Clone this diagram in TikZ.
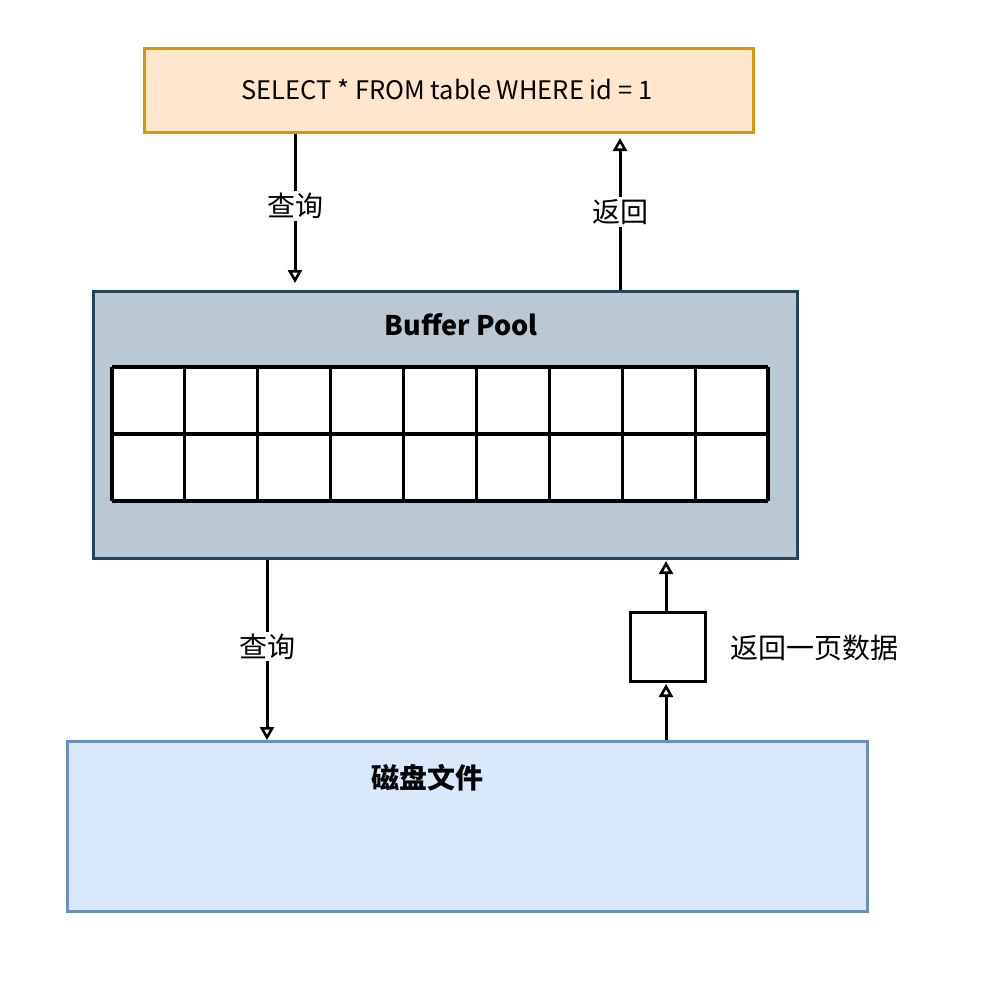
\documentclass[tikz,border=0pt]{standalone}
\usepackage{fontspec}
\setmainfont{Noto Sans CJK SC}
\usetikzlibrary{arrows.meta}
\definecolor{sqlfill}{HTML}{FFE6CC}
\definecolor{sqldraw}{HTML}{D79B00}
\definecolor{bpfill}{HTML}{BAC8D3}
\definecolor{bpdraw}{HTML}{23445D}
\definecolor{dkfill}{HTML}{DAE8FC}
\definecolor{dkdraw}{HTML}{6C8EBF}
\begin{document}
\begin{tikzpicture}[x=1pt,y=-1pt,
  box/.style={draw, line width=3pt, inner sep=0pt, anchor=north west},
  arr/.style={line width=3pt, -{Triangle[open,length=13pt,width=14pt,line width=2.6pt]}},
  lbl/.style={fill=white, font=\fontsize{28}{32}\selectfont, inner sep=2pt},
  cell/.style={line width=3.2pt, draw=black}]
\useasboundingbox (0,0) rectangle (992,980);
% boxes
\node[box, fill=sqlfill, draw=sqldraw, minimum width=609pt, minimum height=84pt] (sql) at (143,47) {};
\node[font=\fontsize{25.5}{30}\selectfont] (sqltext) at (447,90) {SELECT * FROM table WHERE id = 1};
\node[box, fill=bpfill, draw=bpdraw, minimum width=704pt, minimum height=267pt] (bp) at (92,290) {};
\node[font=\fontsize{27}{32}\selectfont\bfseries] (bptext) at (461,325) {Buffer Pool};
\node[box, fill=dkfill, draw=dkdraw, minimum width=800pt, minimum height=170pt] (dk) at (66,740) {};
\node[font=\fontsize{28}{32}\selectfont\bfseries] (dktext) at (427,778) {磁盘文件};
\node[box, fill=white, draw=black, minimum width=75pt, minimum height=69pt] (pg) at (629,611) {};
\node[lbl, anchor=west] (pgtext) at (728,648) {返回一页数据};
% grid
\fill[white] (112,367) rectangle (768,501);
\foreach \i in {0,...,9} {
  \draw[cell] ({112+\i*72.889},367) -- ({112+\i*72.889},501);
}
\draw[cell] (112,367) -- (768,367);
\draw[cell] (112,434) -- (768,434);
\draw[cell] (112,501) -- (768,501);
% connector x positions
\coordinate (c1) at (295,0);
\coordinate (c2) at (620,0);
\coordinate (c3) at (267,0);
\coordinate (c4) at (666,0);
% arrows
\draw[arr, shorten >=7pt] (sql.south -| c1) -- node[lbl, pos=0.46] {查询} (bp.north -| c1);
\draw[arr, shorten >=4pt] (bp.north -| c2) -- node[lbl, pos=0.5] {返回} (sql.south -| c2);
\draw[arr] (bp.south -| c3) -- node[lbl, pos=0.48] {查询} (dk.north -| c3);
\draw[arr, shorten >=1pt] (pg.north -| c4) -- (bp.south -| c4);
\draw[arr, shorten >=1pt] (dk.north -| c4) -- (pg.south -| c4);
\end{tikzpicture}
\end{document}
